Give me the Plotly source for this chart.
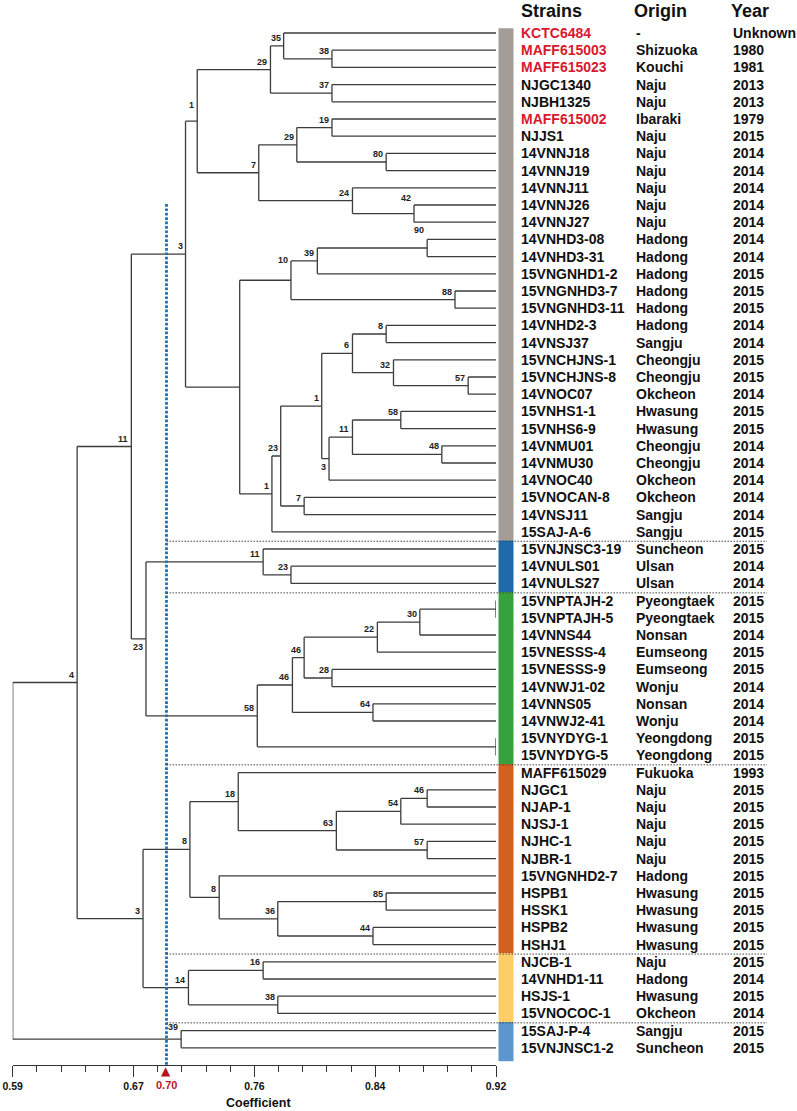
import plotly.graph_objects as go

# ---------------- data ----------------
strains = ["KCTC6484", "MAFF615003", "MAFF615023", "NJGC1340", "NJBH1325", "MAFF615002", "NJJS1",
           "14VNNJ18", "14VNNJ19", "14VNNJ11", "14VNNJ26", "14VNNJ27", "14VNHD3-08", "14VNHD3-31",
           "15VNGNHD1-2", "15VNGNHD3-7", "15VNGNHD3-11", "14VNHD2-3", "14VNSJ37", "15VNCHJNS-1",
           "15VNCHJNS-8", "14VNOC07", "15VNHS1-1", "15VNHS6-9", "14VNMU01", "14VNMU30", "14VNOC40",
           "15VNOCAN-8", "14VNSJ11", "15SAJ-A-6", "15VNJNSC3-19", "14VNULS01", "14VNULS27",
           "15VNPTAJH-2", "15VNPTAJH-5", "14VNNS44", "15VNESSS-4", "15VNESSS-9", "14VNWJ1-02",
           "14VNNS05", "14VNWJ2-41", "15VNYDYG-1", "15VNYDYG-5", "MAFF615029", "NJGC1", "NJAP-1",
           "NJSJ-1", "NJHC-1", "NJBR-1", "15VNGNHD2-7", "HSPB1", "HSSK1", "HSPB2", "HSHJ1", "NJCB-1",
           "14VNHD1-11", "HSJS-1", "15VNOCOC-1", "15SAJ-P-4", "15VNJNSC1-2"]
origins = ["-", "Shizuoka", "Kouchi", "Naju", "Naju", "Ibaraki", "Naju", "Naju", "Naju", "Naju", "Naju",
           "Naju", "Hadong", "Hadong", "Hadong", "Hadong", "Hadong", "Hadong", "Sangju", "Cheongju",
           "Cheongju", "Okcheon", "Hwasung", "Hwasung", "Cheongju", "Cheongju", "Okcheon", "Okcheon",
           "Sangju", "Sangju", "Suncheon", "Ulsan", "Ulsan", "Pyeongtaek", "Pyeongtaek", "Nonsan",
           "Eumseong", "Eumseong", "Wonju", "Nonsan", "Wonju", "Yeongdong", "Yeongdong", "Fukuoka",
           "Naju", "Naju", "Naju", "Naju", "Naju", "Hadong", "Hwasung", "Hwasung", "Hwasung", "Hwasung",
           "Naju", "Hadong", "Hwasung", "Okcheon", "Sangju", "Suncheon"]
years = ["Unknown", "1980", "1981", "2013", "2013", "1979", "2015", "2014", "2014", "2014", "2014",
         "2014", "2014", "2014", "2015", "2015", "2015", "2014", "2014", "2015", "2015", "2014", "2015",
         "2015", "2014", "2014", "2014", "2014", "2014", "2015", "2015", "2014", "2014", "2015", "2015",
         "2014", "2015", "2015", "2014", "2014", "2014", "2015", "2015", "1993", "2015", "2015", "2015",
         "2015", "2015", "2015", "2015", "2015", "2015", "2015", "2015", "2014", "2015", "2014", "2015",
         "2015"]
reference_strains = ["KCTC6484", "MAFF615003", "MAFF615023", "MAFF615002"]

group_sizes = [30, 3, 10, 11, 4, 2]
group_colors = ["#a39c97", "#1f6aab", "#37a23d", "#d2601f", "#fecd68", "#5b97cc"]

# merges: (node id, left child, right child, coefficient, bootstrap support)
# integer children are leaf indices (0-based), strings are node ids
merges = [
    ("n38", 1, 2, 0.808, "38"),
    ("n35", 0, "n38", 0.775, "35"),
    ("n37", 3, 4, 0.808, "37"),
    ("n29a", "n35", "n37", 0.766, "29"),
    ("n19", 5, 6, 0.808, "19"),
    ("n80", 7, 8, 0.845, "80"),
    ("n29b", "n19", "n80", 0.784, "29"),
    ("n42", 10, 11, 0.864, "42"),
    ("n24", 9, "n42", 0.822, "24"),
    ("n7", "n29b", "n24", 0.758, "7"),
    ("n1", "n29a", "n7", 0.716, "1"),
    ("n90", 12, 13, 0.873, "90"),
    ("n39", "n90", 14, 0.798, "39"),
    ("n88", 15, 16, 0.892, "88"),
    ("n10", "n39", "n88", 0.780, "10"),
    ("n8", 17, 18, 0.845, "8"),
    ("n57", 20, 21, 0.901, "57"),
    ("n32", 19, "n57", 0.850, "32"),
    ("n6", "n8", "n32", 0.822, "6"),
    ("n58", 22, 23, 0.855, "58"),
    ("n48", 24, 25, 0.883, "48"),
    ("n11c", "n58", "n48", 0.822, "11"),
    ("n3c", "n11c", 26, 0.806, "3"),
    ("n1c", "n6", "n3c", 0.801, "1"),
    ("n7c", 27, 28, 0.789, "7"),
    ("n23", "n1c", "n7c", 0.773, "23"),
    ("n1b", "n23", 29, 0.767, "1"),
    ("nx", "n10", "n1b", 0.745, ""),
    ("n3a", "n1", "nx", 0.708, "3"),
    ("n23d", 31, 32, 0.780, "23"),
    ("n11b", 30, "n23d", 0.761, "11"),
    ("npt", 33, 34, 0.920, ""),
    ("n30", "npt", 35, 0.868, "30"),
    ("n22", "n30", 36, 0.839, "22"),
    ("n28", 37, 38, 0.808, "28"),
    ("n46b", "n22", "n28", 0.789, "46"),
    ("n64", 39, 40, 0.836, "64"),
    ("n46a", "n46b", "n64", 0.781, "46"),
    ("nyd", 41, 42, 0.920, ""),
    ("n58b", "n46a", "nyd", 0.757, "58"),
    ("n23b", "n11b", "n58b", 0.681, "23"),
    ("n11", "n3a", "n23b", 0.671, "11"),
    ("n46c", 44, 45, 0.873, "46"),
    ("n54", "n46c", 46, 0.855, "54"),
    ("n57b", 47, 48, 0.873, "57"),
    ("n63", "n54", "n57b", 0.811, "63"),
    ("n18", 43, "n63", 0.744, "18"),
    ("n85", 50, 51, 0.845, "85"),
    ("n44", 52, 53, 0.836, "44"),
    ("n36", "n85", "n44", 0.771, "36"),
    ("n8b", 49, "n36", 0.731, "8"),
    ("n8a", "n18", "n8b", 0.711, "8"),
    ("n16", 54, 55, 0.761, "16"),
    ("n38b", 56, 57, 0.771, "38"),
    ("n14", "n16", "n38b", 0.710, "14"),
    ("n3", "n8a", "n14", 0.679, "3"),
    ("n4", "n11", "n3", 0.634, "4"),
    ("n39b", 58, 59, 0.705, "39"),
    ("root", "n4", "n39b", 0.590, ""),
]
labels_below = ["n3c", "n23b"]
label_lift = {"n90": 10, "n42": 8, "n10": 12, "n1": 8, "n39b": 4}

x_min, x_max, n_int = 0.59, 0.92, 20
major_labels = ["0.59", "0.67", "0.76", "0.84", "0.92"]
cut_value, cut_label = 0.695, "0.70"

# ---------------- geometry from the tree ----------------
LEAF_X = x_max
n_leaves = len(strains)
pos = {}      # node id -> (x, y)
for nid, a, b, h, s in merges:
    ys = []
    for c in (a, b):
        ys.append(c + 1 if isinstance(c, int) else pos[c][1])
    pos[nid] = (h, (ys[0] + ys[1]) / 2)

lx, ly = [], []
for nid, a, b, h, s in merges:
    ys = []
    for c in (a, b):
        if isinstance(c, int):
            cx, cy = LEAF_X, c + 1
        else:
            cx, cy = pos[c]
        lx += [h, cx, None]; ly += [cy, cy, None]
        ys.append(cy)
    lx += [h, h, None]; ly += [ys[0], ys[1], None]

W, H = 797, 1111
x0px, x1px = 12.7, 496.0
axis_px = 1065.0
row0, row_step = 33.0, 17.2
y_bottom = 1 + (axis_px - row0) / row_step
y_top = 1 - row0 / row_step

def px_x(px):
    return px / W

def py(px):
    return 1 - px / H

fig = go.Figure()
fig.add_trace(go.Scatter(x=lx, y=ly, mode="lines", line=dict(color="#3c3c3c", width=1.3),
                         hoverinfo="skip", cliponaxis=False, showlegend=False))

# cut line
fig.add_trace(go.Scatter(x=[cut_value, cut_value], y=[1 + (204 - row0) / row_step, y_bottom],
                         mode="lines", line=dict(color="#1f6db4", width=2.8, dash="2.7px,1.7px"),
                         hoverinfo="skip", cliponaxis=False, showlegend=False))

ann = []
ann.append(dict(x=cut_value, y=py(1071), xref="x", yref="paper", text="▲", showarrow=False,
                font=dict(family="DejaVu Sans", size=12, color="#b3121f"),
                xanchor="center", yanchor="middle"))
lab_font = dict(family="Liberation Sans, Arial", size=9, color="#222", weight="bold")
for nid, a, b, h, s in merges:
    if not s:
        continue
    x, y = pos[nid]
    below = nid in labels_below
    ann.append(dict(x=h, y=y, xref="x", yref="y", text=s, showarrow=False, font=lab_font,
                    xanchor="right", yanchor="top" if below else "bottom",
                    xshift=-1, yshift=(-1 if below else 1 + label_lift.get(nid, 0))))

# columns
col_font = dict(family="Liberation Sans, Arial", size=14, color="#111", weight="bold")
red_font = dict(family="Liberation Sans, Arial", size=14, color="#d8182e", weight="bold")
hdr_font = dict(family="Liberation Sans, Arial", size=18, color="#111", weight="bold")
for txt, xp in [("Strains", 519), ("Origin", 632), ("Year", 729)]:
    ann.append(dict(x=px_x(xp), y=py(11), xref="paper", yref="paper", text=txt, showarrow=False,
                    font=hdr_font, xanchor="left", yanchor="middle"))
for i in range(n_leaves):
    yv = i + 1
    ann.append(dict(x=px_x(519), y=yv, xref="paper", yref="y", text=strains[i], showarrow=False,
                    font=red_font if strains[i] in reference_strains else col_font,
                    xanchor="left", yanchor="middle"))
    ann.append(dict(x=px_x(634), y=yv, xref="paper", yref="y", text=origins[i], showarrow=False,
                    font=col_font, xanchor="left", yanchor="middle"))
    ann.append(dict(x=px_x(730.5), y=yv, xref="paper", yref="y", text=years[i], showarrow=False,
                    font=col_font, xanchor="left", yanchor="middle"))

ann.append(dict(x=cut_value, y=py(1085), xref="x", yref="paper", text=cut_label, showarrow=False,
                font=dict(family="Liberation Sans, Arial", size=11, color="#c0151f", weight="bold"),
                xanchor="center", yanchor="middle"))
ann.append(dict(x=px_x(258), y=py(1103), xref="paper", yref="paper", text="Coefficient", showarrow=False,
                font=dict(family="Liberation Sans, Arial", size=12.5, color="#111", weight="bold"),
                xanchor="center", yanchor="middle"))

# group bars and separators
shapes = []
start = 0
cut_paper = (x0px + (cut_value - x_min) / (x_max - x_min) * (x1px - x0px)) / W
for gi, (size, col) in enumerate(zip(group_sizes, group_colors)):
    top = start + 0.5 if gi > 0 else 0.72
    bot = start + size + 0.5 if gi < len(group_sizes) - 1 else start + size + 0.78
    shapes.append(dict(type="rect", xref="paper", yref="y", x0=px_x(498.5), x1=px_x(513.5),
                       y0=top, y1=bot, fillcolor=col, line=dict(width=0), layer="below"))
    if gi > 0:
        shapes.append(dict(type="line", xref="paper", yref="y", x0=cut_paper, x1=px_x(767),
                           y0=start + 0.55, y1=start + 0.55,
                           line=dict(color="#444", width=1, dash="1.5px,1.5px")))
    start += size

step = (x_max - x_min) / n_int
ticks_all = [x_min + k * step for k in range(n_int + 1)]
major_vals = ticks_all[::5]
minor_vals = [v for k, v in enumerate(ticks_all) if k % 5]

fig.update_layout(
    width=W, height=H, autosize=False,
    margin=dict(l=0, r=0, t=0, b=0, autoexpand=False),
    paper_bgcolor="white", plot_bgcolor="white",
    showlegend=False,
    annotations=ann, shapes=shapes,
    xaxis=dict(domain=[x0px / W, x1px / W], range=[x_min, x_max], showgrid=False, zeroline=False,
               automargin=False,
               showline=True, linecolor="#333", linewidth=1.2,
               ticks="outside", ticklen=11, tickwidth=1.2, tickcolor="#333",
               tickmode="array", tickvals=major_vals, ticktext=major_labels,
               tickfont=dict(family="Liberation Sans, Arial", size=10.5, color="#111", weight="bold"),
               minor=dict(ticks="outside", ticklen=6, tickwidth=1.2, tickcolor="#333",
                          tickmode="array", tickvals=minor_vals, showgrid=False),
               fixedrange=True),
    yaxis=dict(domain=[1 - axis_px / H, 1], range=[y_bottom, y_top], visible=False,
               automargin=False,
               showgrid=False, zeroline=False, fixedrange=True),
)

fig.write_html("out.html", config={"displayModeBar": False},
               post_script="document.body.style.margin='0';document.body.style.overflow='hidden';")
